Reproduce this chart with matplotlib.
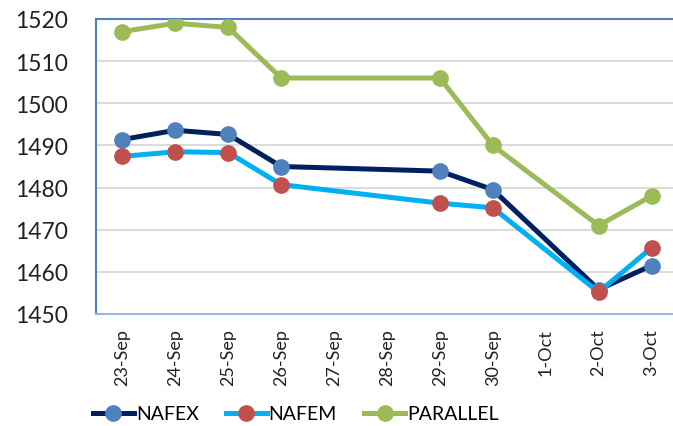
import matplotlib
matplotlib.use('Agg')
import matplotlib.pyplot as plt
import numpy as np

# daily labels on the date axis
dates = ['23-Sep', '24-Sep', '25-Sep', '26-Sep', '27-Sep', '28-Sep',
         '29-Sep', '30-Sep', '1-Oct', '2-Oct', '3-Oct']
# days that carry observations
obs_days = ['23-Sep', '24-Sep', '25-Sep', '26-Sep', '29-Sep', '30-Sep', '2-Oct', '3-Oct']

nafex = [1491.4, 1493.6, 1492.6, 1485.0, 1483.9, 1479.5, 1455.8, 1461.5]
nafem = [1487.4, 1488.5, 1488.3, 1480.7, 1476.3, 1475.2, 1455.2, 1465.7]
parallel = [1517.0, 1519.0, 1518.0, 1506.0, 1506.0, 1490.0, 1471.0, 1478.0]

plt.rcParams['font.family'] = ['Lato', 'DejaVu Sans']

fig = plt.figure(figsize=(6.73, 4.27), dpi=100)
ax = fig.add_axes([96/673, 1 - 315/427, 582/673, 295/427])

x = np.array([dates.index(d) for d in obs_days])

ax.plot(x, nafex, '-o', color='#002060', lw=3.6, marker='o', ms=11,
        mfc='#4F81BD', mec='#4F81BD', label='NAFEX', zorder=3)
ax.plot(x, nafem, '-o', color='#00B0F0', lw=3.6, marker='o', ms=11,
        mfc='#C0504D', mec='#C0504D', label='NAFEM', zorder=4)
ax.plot(x, parallel, '-o', color='#9BBB59', lw=3.6, marker='o', ms=11,
        mfc='#9BBB59', mec='#9BBB59', label='PARALLEL', zorder=3)

ax.set_xlim(-0.5, len(dates) - 0.5)
ax.set_ylim(1450, 1520)
ax.set_yticks(np.arange(1450, 1521, 10))
ax.set_xticks(range(len(dates)))
ax.set_xticklabels(dates, rotation=90)
ax.tick_params(axis='y', length=0, pad=20, labelsize=16.5, colors='#222222')
ax.tick_params(axis='x', length=0, pad=10, labelsize=13, colors='#222222')

ax.yaxis.grid(True, color='#D9D9D9', lw=1.3)
ax.set_axisbelow(True)
for s in ['left', 'top', 'right']:
    ax.spines[s].set_color('#4F81BD')
    ax.spines[s].set_linewidth(1.5)
ax.spines['bottom'].set_color('#9DB5D8')
ax.spines['bottom'].set_linewidth(1.5)

ax.legend(loc='center left', bbox_to_anchor=(93/673, 1 - 415/427), ncol=3, frameon=False,
          fontsize=14, handlelength=2.1, handletextpad=0.1, columnspacing=1.4,
          borderpad=0, borderaxespad=0, bbox_transform=fig.transFigure)

fig.savefig('out.png', dpi=100)
